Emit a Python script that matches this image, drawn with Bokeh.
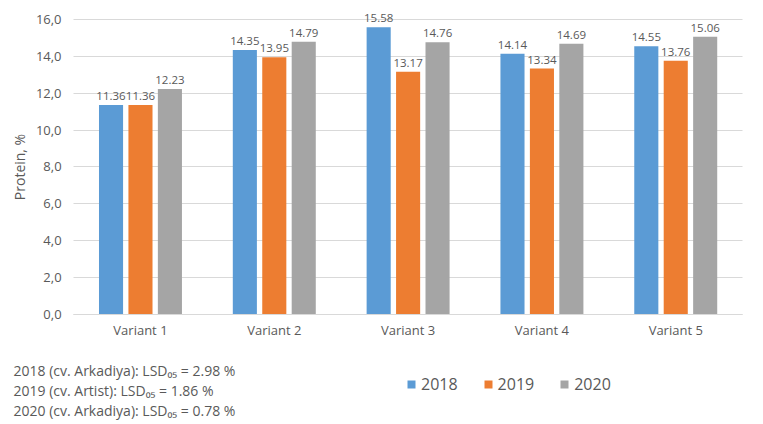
from bokeh.plotting import figure
from bokeh.models import (Range1d, FixedTicker, Legend, LegendItem, Label, ColumnDataSource)
from bokeh.core.properties import value
from bokeh.embed import file_html
from bokeh.resources import INLINE

categories = ["Variant 1", "Variant 2", "Variant 3", "Variant 4", "Variant 5"]
years = ["2018", "2019", "2020"]
v2018 = [11.36, 14.35, 15.58, 14.14, 14.55]
v2019 = [11.36, 13.95, 13.17, 13.34, 13.76]
v2020 = [12.23, 14.79, 14.76, 14.69, 15.06]
y_ticks = [0, 2, 4, 6, 8, 10, 12, 14, 16]
notes = ["2018 (cv. Arkadiya): LSD\u2080\u2085 = 2.98 %",
         "2019 (cv. Artist): LSD\u2080\u2085 = 1.86 %",
         "2020 (cv. Arkadiya): LSD\u2080\u2085 = 0.78 %"]

colors = ["#5B9BD5", "#ED7D31", "#A5A5A5"]
offsets = [-0.22, 0.0, 0.22]
FONT = "Open Sans"
GREY = "#595959"
GRID = "#D9D9D9"
W, H = 755, 420

idx = list(range(len(categories)))
cat_lo, cat_hi = idx[0] - 0.5, idx[-1] + 0.5
series = {"2018": v2018, "2019": v2019, "2020": v2020}

data = {"x": idx}
for yr, off in zip(years, offsets):
    data["x" + yr] = [i + off for i in idx]
    data["y" + yr] = series[yr]
    data["l" + yr] = [f"{v:.2f}" for v in series[yr]]
src = ColumnDataSource(data)

# frame covers the whole canvas; axes are pinned inside it
p = figure(x_range=Range1d(-1.046, 4.596), y_range=Range1d(-5.75, 17.03),
           width=W, height=H, frame_width=W, frame_height=H, min_border=0,
           output_backend="svg", toolbar_location=None)
p.outline_line_color = None
p.background_fill_color = "white"

renderers = []
for yr, col in zip(years, colors):
    r = p.vbar(x="x" + yr, top="y" + yr, width=0.18, source=src,
               fill_color=col, line_color=None)
    renderers.append(r)
    p.text(x="x" + yr, y="y" + yr, text="l" + yr, source=src,
           text_align="center", text_baseline="bottom", y_offset=-5,
           text_font=value(FONT), text_font_size="11.5px", text_color=GREY)

ya = p.yaxis[0]
ya.fixed_location = cat_lo
ya.bounds = (y_ticks[0], y_ticks[-1])
ya.ticker = FixedTicker(ticks=y_ticks)
ya.major_label_overrides = {t: f"{t},0" for t in y_ticks}
ya.axis_line_color = None
ya.major_tick_line_color = None
ya.minor_tick_line_color = None
ya.major_tick_out = 0
ya.minor_tick_out = 0
ya.major_label_standoff = 12
ya.major_label_text_font = FONT
ya.major_label_text_font_size = "13px"
ya.major_label_text_color = GREY
ya.axis_label = "Protein, %"
ya.axis_label_text_font = FONT
ya.axis_label_text_font_size = "14px"
ya.axis_label_text_font_style = "normal"
ya.axis_label_text_color = GREY
ya.axis_label_standoff = 4

xa = p.xaxis[0]
xa.fixed_location = 0
xa.bounds = (cat_lo, cat_hi)
xa.ticker = FixedTicker(ticks=idx)
xa.major_label_overrides = {i: c for i, c in zip(idx, categories)}
xa.axis_line_color = GRID
xa.major_tick_line_color = None
xa.minor_tick_line_color = None
xa.major_tick_out = 0
xa.minor_tick_out = 0
xa.major_label_standoff = 7
xa.major_label_text_font = FONT
xa.major_label_text_font_size = "13px"
xa.major_label_text_color = GREY

p.xgrid.grid_line_color = None
yg = p.ygrid[0]
yg.grid_line_color = GRID
yg.grid_line_width = 1
yg.bounds = (y_ticks[0], y_ticks[-1])
try:
    yg.cross_bounds = (cat_lo, cat_hi)
except Exception:
    yg.grid_line_color = None
    ya.major_tick_line_color = GRID
    ya.major_tick_in = 669

legend = Legend(items=[LegendItem(label=yr, renderers=[r]) for yr, r in zip(years, renderers)],
                orientation="horizontal", location=(406, 25),
                glyph_width=10, glyph_height=10, label_standoff=5, spacing=25,
                padding=0, margin=0, border_line_color=None, background_fill_alpha=0,
                label_text_font=FONT, label_text_font_size="16px", label_text_color=GREY)
p.add_layout(legend, "center")

for i, t in enumerate(notes):
    p.add_layout(Label(x=13, y=50 - 20 * i, x_units="screen", y_units="screen", text=t,
                       text_font=FONT, text_font_size="14px", text_color=GREY,
                       text_baseline="middle"))

open("out.html", "w").write(file_html(p, INLINE))
